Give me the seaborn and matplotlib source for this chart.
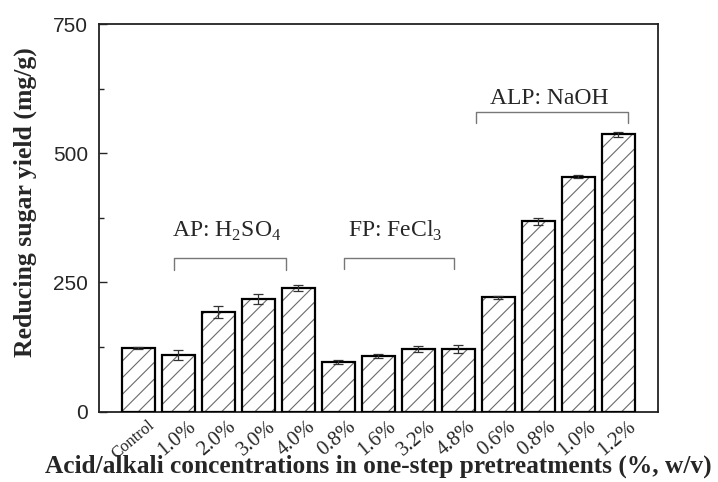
import pandas as pd
import matplotlib
matplotlib.use("Agg")
import matplotlib.pyplot as plt
import matplotlib.transforms as mtransforms
from matplotlib.patches import Rectangle
from matplotlib.ticker import MultipleLocator, FixedLocator
import seaborn as sns

# data
groups = ["Control", "AP 1.0", "AP 2.0", "AP 3.0", "AP 4.0",
          "FP 0.8", "FP 1.6", "FP 3.2", "FP 4.8",
          "ALP 0.6", "ALP 0.8", "ALP 1.0", "ALP 1.2"]
tick_labels = ["Control", "1.0%", "2.0%", "3.0%", "4.0%",
               "0.8%", "1.6%", "3.2%", "4.8%",
               "0.6%", "0.8%", "1.0%", "1.2%"]
sugar_yield = [123, 110, 193, 218, 240, 96, 108, 121, 121, 221, 368, 455, 537]
yield_err = [2, 10, 11, 9, 6, 4, 4, 6, 7, 3, 7, 3, 5]

# treatment brackets: (label, x start, x end, y top, y tick end, label x, label y)
brackets = [
    ("AP: H$_2$SO$_4$", 0.88, 3.70, 298, 274, 2.22, 338),
    ("FP: FeCl$_3$", 5.13, 7.90, 298, 276, 6.41, 338),
    ("ALP: NaOH", 8.45, 12.24, 580, 558, 10.26, 595),
]

df = pd.DataFrame({"group": groups, "yield": sugar_yield, "err": yield_err})

sns.set_style("white")
plt.rcParams["font.family"] = ["Liberation Serif", "DejaVu Serif"]
plt.rcParams["mathtext.fontset"] = "custom"
plt.rcParams["mathtext.rm"] = "Liberation Serif"
plt.rcParams["hatch.linewidth"] = 0.8

fig = plt.figure(figsize=(7.18, 4.82), dpi=100)
ax = fig.add_axes([0.138, 0.146, 0.778, 0.804])

sns.barplot(data=df, x="group", y="yield", order=groups, color="white",
            edgecolor="#6a6a6a", linewidth=0, width=0.82, errorbar=None,
            saturation=1, ax=ax)
# grey hatch inside, black outline on top
for bar in list(ax.patches):
    bar.set_hatch("//")
    bar.set_facecolor("white")
    bar.set_edgecolor("#6a6a6a")
    bar.set_linewidth(0)
    ax.add_patch(Rectangle(bar.get_xy(), bar.get_width(), bar.get_height(),
                           fill=False, edgecolor="black", linewidth=1.6, zorder=3))

ax.errorbar(range(len(groups)), df["yield"], yerr=df["err"], fmt="none",
            ecolor="#333333", elinewidth=0.9, capsize=3.5, capthick=0.9, zorder=5)

for label, x0, x1, ytop, ybot, lx, ly in brackets:
    ax.plot([x0, x0, x1, x1], [ybot, ytop, ytop, ybot], color="#777777", lw=1.0)
    ax.text(lx, ly, label, ha="center", va="baseline", fontsize=17)

ax.set_xlim(-0.98, 12.98)
ax.set_ylim(0, 750)
ax.yaxis.set_major_locator(MultipleLocator(250))
ax.yaxis.set_minor_locator(MultipleLocator(125))
ax.tick_params(axis="y", which="both", direction="in", left=True, right=False)
ax.tick_params(axis="y", which="major", length=6, width=1, labelsize=15, pad=8)
ax.tick_params(axis="y", which="minor", length=3.5, width=1)
for t in ax.get_yticklabels():
    t.set_fontfamily("Liberation Sans")

ax.set_xticks(range(len(groups)))
ax.set_xticklabels(tick_labels, rotation=40, ha="right", va="top",
                   rotation_mode="anchor", fontsize=15)
ax.tick_params(axis="x", which="major", length=0, pad=4)
ax.xaxis.set_minor_locator(FixedLocator([2, 5, 8, 11]))
ax.tick_params(axis="x", which="minor", direction="in", length=5, width=1, bottom=True)
offset = mtransforms.ScaledTranslation(9 / 100, 0, fig.dpi_scale_trans)
for i, t in enumerate(ax.get_xticklabels()):
    t.set_transform(t.get_transform() + offset)
    if i == 0:
        t.set_fontsize(12)

for s in ax.spines.values():
    s.set_visible(True)
    s.set_color("#222222")
    s.set_linewidth(1.3)

ax.set_xlabel("Acid/alkali concentrations in one-step pretreatments (%, w/v)",
              fontsize=18.3, fontweight="bold", labelpad=0)
ax.set_ylabel("Reducing sugar yield (mg/g)", fontsize=18.5, fontweight="bold")
ax.xaxis.set_label_coords(0.5, -0.112)
ax.yaxis.set_label_coords(-0.111, 0.54)

fig.savefig("out.png", dpi=100)
